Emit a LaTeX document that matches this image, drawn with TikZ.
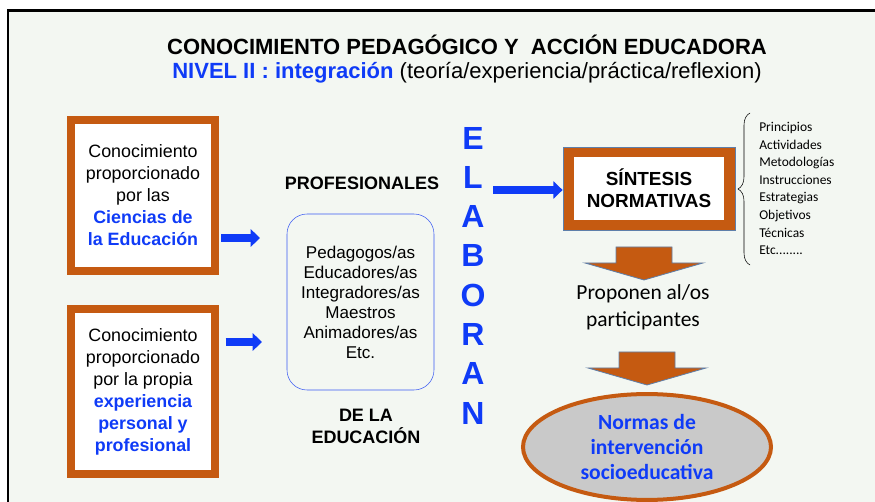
\documentclass[tikz,border=0pt]{standalone}
\usepackage{fontspec}
\setmainfont{Liberation Sans}
\newfontfamily\calibri{Carlito}
\usetikzlibrary{arrows.meta,shapes.geometric,decorations.pathreplacing}

\definecolor{rust}{HTML}{C55A11}
\definecolor{vivid}{HTML}{0F3BF7}
\definecolor{paper}{HTML}{F3F7F2}
\definecolor{slate}{HTML}{5E7FAA}
\definecolor{pebble}{HTML}{C9C9C9}
\definecolor{edge}{HTML}{3A5AF2}

\newcommand{\bluebf}[1]{\textcolor{vivid}{\bfseries #1}}

\tikzset{
    kbox/.style={draw=rust,line width=6pt,fill=white,align=center,inner sep=0pt,
        minimum width=108pt,font=\fontsize{13.4}{16.5}\selectfont},
    bluearrow/.style={draw=vivid,line width=6pt,-{Triangle[length=7pt,width=13pt]}},
    elab/.style={text=vivid,font=\fontsize{24}{24}\selectfont\bfseries,inner sep=0pt},
    caps/.style={font=\fontsize{13.5}{16.5}\selectfont\bfseries,align=center},
    downarrow/.pic={\filldraw[fill=rust,draw=slate,line width=0.6pt]
        (-28,0) -- (28,0) -- (28,16) -- (59,16) -- (0,33) -- (-59,16) -- (-28,16) -- cycle;}
}

\begin{document}
\begin{tikzpicture}[x=0.75pt,y=-0.75pt]
    \useasboundingbox (0,0) rectangle (875,502);
    \fill[paper] (8,10.7) rectangle (875,502);
    \draw[line width=2pt] (8,502) -- (8,10.7) -- (875,10.7);

    % title
    \node (title) at (467,45) {\fontsize{16.5}{19}\selectfont\bfseries CONOCIMIENTO PEDAGÓGICO Y\ \ ACCIÓN EDUCADORA};
    \node (level) at (467,73) {\fontsize{16.5}{19}\selectfont\bluebf{NIVEL II : integración} (teoría/experiencia/práctica/reflexion)};

    % sources of knowledge
    \node[kbox,minimum height=113.25pt] (box1) at (143,195.5)
        {Conocimiento\\proporcionado\\por las\\\bluebf{Ciencias de}\\\bluebf{la Educación}};
    \node[kbox,minimum height=123.75pt] (box2) at (143,391.5)
        {Conocimiento\\proporcionado\\por la propia\\\bluebf{experiencia}\\\bluebf{personal y}\\\bluebf{profesional}};

    % professionals
    \node[caps] (prof) at (362,183) {PROFESIONALES};
    \node[draw=edge,rounded corners=15pt,fill=paper,minimum width=110.25pt,minimum height=132pt,
        align=center,font=\fontsize{12.8}{15}\selectfont] (rbox) at (360.5,302)
        {Pedagogos/as\\Educadores/as\\Integradores/as\\Maestros\\Animadores/as\\Etc.};
    \node[caps] (educ) at (366,426) {DE LA\\EDUCACIÓN};

    \foreach \l [count=\i] in {E,L,A,B,O,R,A,N}
        \node[elab] (e\i) at (473,{138+39.3*(\i-1)}) {\l};

    % synthesis
    \node[draw=slate,line width=0.6pt,fill=rust,minimum width=129pt,minimum height=62.25pt] (synth) at (649,188.5) {};
    \node[fill=white,minimum width=112.5pt,minimum height=47.25pt,align=center,
        font=\fontsize{14.2}{16.5}\selectfont\bfseries] (synthin) at (synth) {SÍNTESIS\\NORMATIVAS};

    \draw[decorate,decoration={brace,amplitude=9pt}] (750,265) -- (750,113);
    \node[anchor=west,align=left,inner sep=0pt,font=\calibri\fontsize{10.1}{13.2}\selectfont] (list) at (759,188.5)
        {Principios\\Actividades\\Metodologías\\Instrucciones\\Estrategias\\Objetivos\\Técnicas\\Etc........};

    \pic (down1) at (644,247) {downarrow};
    \node[align=center,font=\calibri\fontsize{16.1}{20.25}\selectfont] (prop) at (643,307) {Proponen al/os\\participantes};
    \pic (down2) at (647,352) {downarrow};

    \node[ellipse,draw=rust,line width=3pt,fill=pebble,minimum width=186pt,minimum height=72pt,align=center,
        font=\calibri\fontsize{16.2}{19}\selectfont\bfseries,text=vivid] (norms) at (647,447)
        {Normas de\\intervención\\socioeducativa};

    % arrows
    \coordinate (a1) at (260,238);
    \coordinate (a2) at (262,342);
    \coordinate (a3) at (493,190);
    \draw[bluearrow,shorten <=1.5pt] (box1.east |- a1) -- (a1);
    \draw[bluearrow,shorten <=5pt] (box2.east |- a2) -- (a2);
    \draw[bluearrow] (a3) -- (synth.west |- a3);
\end{tikzpicture}
\end{document}
